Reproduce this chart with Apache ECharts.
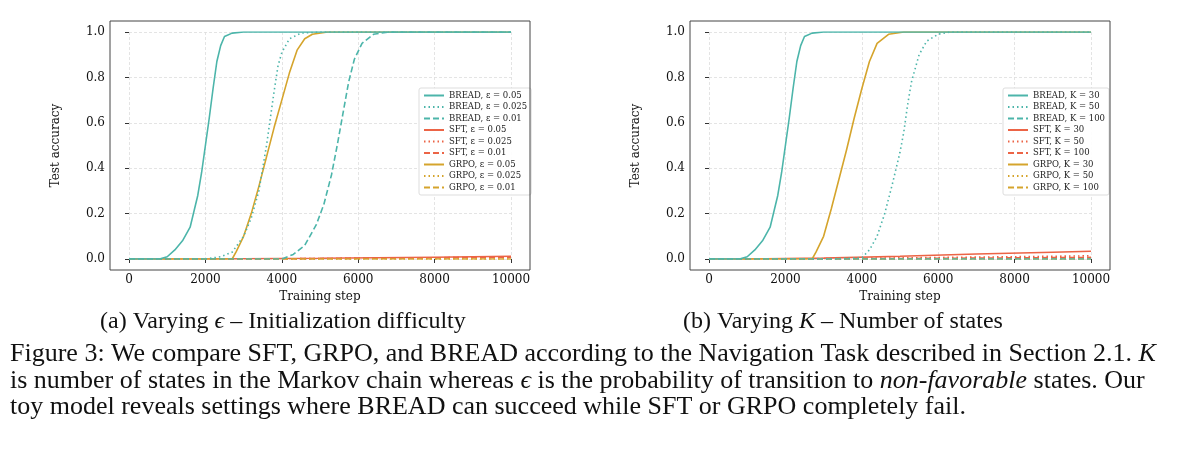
<!DOCTYPE html>
<html><head><meta charset="utf-8">
<script src="https://cdn.jsdelivr.net/npm/echarts@6/dist/echarts.min.js"></script>
<style>html,body{margin:0;padding:0;background:#fff}#c{width:1200px;height:449px}</style>
</head><body><div id="c"></div>
<script>
// values: [step, accuracy]
let breadA05 = [[0,0],[800,0],[1000,0.01],[1200,0.04],[1400,0.08],[1600,0.14],[1800,0.28],[1900,0.38],[2000,0.5],[2100,0.62],[2200,0.75],[2300,0.87],[2400,0.94],[2500,0.98],[2700,0.995],[3000,1],[10000,1]];
let breadA025 = [[0,0],[2000,0],[2400,0.01],[2700,0.03],[3000,0.1],[3200,0.18],[3400,0.3],[3500,0.4],[3600,0.5],[3700,0.62],[3800,0.74],[3900,0.85],[4000,0.91],[4200,0.97],[4500,0.995],[5000,1],[10000,1]];
let breadA01 = [[0,0],[4000,0],[4300,0.02],[4600,0.06],[4900,0.15],[5100,0.24],[5300,0.37],[5450,0.5],[5600,0.64],[5750,0.78],[5900,0.88],[6100,0.95],[6400,0.99],[6800,1],[10000,1]];
let grpoA05 = [[0,0],[2700,0],[2800,0.03],[3000,0.1],[3200,0.2],[3400,0.32],[3600,0.45],[3800,0.58],[4000,0.7],[4200,0.82],[4400,0.92],[4600,0.97],[4800,0.99],[5200,1],[10000,1]];
let grpoZero = [[0,0],[10000,0]];
let sftA = [[0,0],[2000,0],[5000,0.003],[8000,0.008],[10000,0.012]];
let sftA2 = [[0,0],[3000,0],[6000,0.003],[10000,0.008]];

let breadB30 = breadA05;
let breadB50 = [[0,0],[3000,0],[4000,0.005],[4200,0.04],[4400,0.1],[4600,0.2],[4800,0.33],[5000,0.47],[5100,0.56],[5200,0.68],[5300,0.78],[5500,0.9],[5700,0.96],[6000,0.99],[6300,1],[10000,1]];
let grpoB30 = [[0,0],[2700,0],[2800,0.03],[3000,0.1],[3200,0.22],[3400,0.35],[3600,0.48],[3800,0.62],[4000,0.75],[4200,0.87],[4400,0.95],[4700,0.99],[5100,1],[10000,1]];
let sftB30 = [[0,0],[1000,0],[3000,0.004],[5000,0.012],[7000,0.022],[9000,0.03],[10000,0.034]];
let sftB50 = [[0,0],[2000,0],[5000,0.005],[8000,0.01],[10000,0.014]];
let sftB100 = [[0,0],[3000,0],[6000,0.003],[10000,0.007]];

let xTicks = [0, 2000, 4000, 6000, 8000, 10000];
let yTicks = [0, 0.2, 0.4, 0.6, 0.8, 1.0];
let labelsA = ['0.05', '0.025', '0.01'];
let labelsB = ['30', '50', '100'];

let teal = '#4cb5aa', red = '#ec6446', gold = '#d5a42c';
let dashes = ['solid', [1.5, 3], [6, 3]];
let serif = 'DejaVu Serif';

function makeSeries(idx, sym, labels, data) {
    let out = [];
    let groups = [['BREAD', teal], ['SFT', red], ['GRPO', gold]];
    groups.forEach(function (g, gi) {
        labels.forEach(function (l, li) {
            out.push({
                name: g[0] + ', ' + sym + ' = ' + l,
                type: 'line', xAxisIndex: idx, yAxisIndex: idx,
                showSymbol: false, symbol: 'none', z: gi === 0 ? 3 : 2,
                lineStyle: {color: g[1], width: 1.6, type: dashes[li]},
                itemStyle: {color: g[1]},
                data: data[gi][li]
            });
        });
    });
    return out;
}

let seriesA = makeSeries(0, 'ε', labelsA, [[breadA05, breadA025, breadA01], [sftA, sftA2, sftA2], [grpoA05, grpoZero, grpoZero]]);
let seriesB = makeSeries(1, 'K', labelsB, [[breadB30, breadB50, grpoZero], [sftB30, sftB50, sftB100], [grpoB30, grpoZero, grpoZero]]);

function xAx(i) {
    return {gridIndex: i, type: 'value', min: 0, max: 10000, interval: 2000, offset: 11,
        name: 'Training step', nameLocation: 'middle', nameGap: 12,
        nameTextStyle: {fontFamily: serif, fontSize: 12, color: '#111'},
        axisLine: {show: false}, axisTick: {show: true, length: 4, lineStyle: {color: '#333'}},
        axisLabel: {fontFamily: serif, fontSize: 12, color: '#111', margin: 4, formatter: function (v) { return String(v); }},
        splitLine: {show: true, lineStyle: {color: '#ddd', type: [3, 2], width: 0.8}}};
}
function yAx(i) {
    return {gridIndex: i, type: 'value', min: 0, max: 1, interval: 0.2, offset: 19,
        name: 'Test accuracy', nameLocation: 'middle', nameGap: 48, nameRotate: 90,
        nameTextStyle: {fontFamily: serif, fontSize: 12, color: '#111'},
        axisLine: {show: false}, axisTick: {show: true, length: 4, lineStyle: {color: '#333'}},
        axisLabel: {fontFamily: serif, fontSize: 12, color: '#111', margin: 5, formatter: function (v) { return v.toFixed(1); }},
        splitLine: {show: true, lineStyle: {color: '#ddd', type: [3, 2], width: 0.8}}};
}
function legend(names, left) {
    return {data: names, orient: 'vertical', left: left, top: 88, itemGap: 2.5, itemWidth: 20, itemHeight: 8,
        itemStyle: {opacity: 0},
        backgroundColor: 'rgba(255,255,255,0.9)', borderColor: '#ddd', borderWidth: 1, borderRadius: 2, padding: [3, 4],
        textStyle: {fontFamily: serif, fontSize: 8.5, color: '#222'}};
}

let capStyle = {fontFamily: 'Liberation Serif', fontSize: 26, fill: '#111',
    rich: {i: {fontFamily: 'Liberation Serif', fontStyle: 'italic', fontSize: 26}, r: {fontFamily: 'Liberation Serif', fontSize: 26, color: '#9b1c1c'}}};
let subStyle = {fontFamily: 'Liberation Serif', fontSize: 24, fill: '#111',
    rich: {i: {fontFamily: 'Liberation Serif', fontStyle: 'italic', fontSize: 24}}};
function txt(x, y, s, st) {
    return {type: 'text', left: x, top: y, style: Object.assign({text: s}, st || capStyle)};
}

let chart = echarts.init(document.getElementById('c'));
chart.setOption({
    backgroundColor: '#fff', animation: false,
    grid: [{left: 129, width: 382, top: 32, height: 227}, {left: 709, width: 382, top: 32, height: 227}],
    xAxis: [xAx(0), xAx(1)], yAxis: [yAx(0), yAx(1)],
    legend: [legend(seriesA.map(function (s) { return s.name; }), 419), legend(seriesB.map(function (s) { return s.name; }), 1003)],
    series: seriesA.concat(seriesB),
    graphic: [
        {type: 'rect', shape: {x: 110, y: 21, width: 420, height: 249}, style: {fill: 'none', stroke: '#444', lineWidth: 1}, z: 10},
        {type: 'rect', shape: {x: 690, y: 21, width: 420, height: 249}, style: {fill: 'none', stroke: '#444', lineWidth: 1}, z: 10},
        txt(100, 310, '(a) Varying {i|ϵ} – Initialization difficulty', subStyle),
        txt(683, 310, '(b) Varying {i|K} – Number of states', subStyle),
        txt(10, 341, 'Figure 3: We compare SFT, GRPO, and BREAD according to the Navigation Task described in Section {r|2.1}. {i|K}'),
        txt(10, 368, 'is number of states in the Markov chain whereas {i|ϵ} is the probability of transition to {i|non-favorable} states. Our'),
        txt(10, 394, 'toy model reveals settings where BREAD can succeed while SFT or GRPO completely fail.')
    ]
});
</script></body></html>
